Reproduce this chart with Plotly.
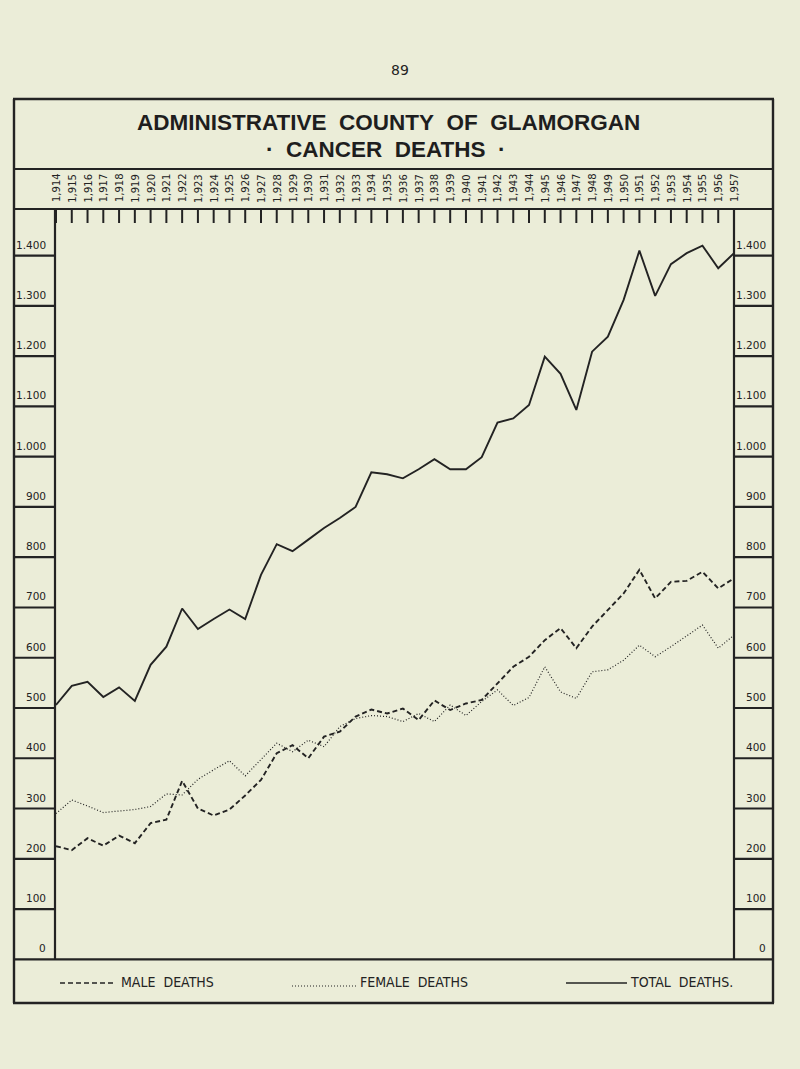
import plotly.graph_objects as go

# ---------------- data ----------------
years = [1914, 1915, 1916, 1917, 1918, 1919, 1920, 1921, 1922, 1923,
         1924, 1925, 1926, 1927, 1928, 1929, 1930, 1931, 1932, 1933,
         1934, 1935, 1936, 1937, 1938, 1939, 1940, 1941, 1942, 1943,
         1944, 1945, 1946, 1947, 1948, 1949, 1950, 1951, 1952, 1953,
         1954, 1955, 1956, 1957]

total_deaths = [506, 544, 552, 522, 541, 514, 586, 622, 698, 657,
                677, 696, 677, 765, 826, 812, 835, 858, 878, 900,
                969, 965, 957, 975, 995, 975, 975, 999, 1068, 1076,
                1103, 1199, 1165, 1093, 1209, 1239, 1312, 1410, 1320, 1383,
                1405, 1420, 1375, 1405]

male_deaths = [225, 217, 241, 226, 246, 231, 271, 278, 355, 300,
               286, 298, 326, 357, 410, 426, 400, 443, 453, 483,
               497, 489, 499, 476, 515, 496, 509, 516, 549, 582,
               602, 635, 659, 619, 662, 695, 728, 775, 718, 751,
               753, 771, 738, 758]

female_deaths = [290, 317, 305, 292, 295, 298, 304, 329, 327, 358,
                 377, 395, 365, 398, 430, 413, 436, 423, 463, 479,
                 485, 483, 473, 489, 473, 506, 485, 513, 536, 505,
                 521, 582, 532, 519, 572, 576, 595, 625, 602, 622,
                 643, 665, 619, 645]

year_labels = ["1,914", "1,915", "1,916", "1,917", "1,918", "1,919", "1,920", "1,921",
               "1,922", "1,923", "1,924", "1,925", "1,926", "1,927", "1,928", "1,929",
               "1,930", "1,931", "1,932", "1,933", "1,934", "1,935", "1,936", "1,937",
               "1,938", "1,939", "1,940", "1,941", "1,942", "1,943", "1,944", "1,945",
               "1,946", "1,947", "1,948", "1,949", "1,950", "1,951", "1,952", "1,953",
               "1,954", "1,955", "1,956", "1,957"]

scale_values = [0, 100, 200, 300, 400, 500, 600, 700, 800, 900, 1000, 1100, 1200, 1300, 1400]
scale_labels_left = ["0", "100", "200", "300", "400", "500", "600", "700", "800", "900",
                     "1.000", "1.100", "1.200", "1.300", "1.400"]
scale_labels_right = ["0", "100", "200", "300", "400", "500", "600", "700", "800", "900",
                      "1.000", "1.100", "1.200", "1.300", "1.400"]

# ---------------- layout helpers ----------------
W, H = 800, 1069
INK = "#232323"
BG = "#EBEDD8"


def px(x):
    return x / W


def py(y):
    return 1 - y / H


fig = go.Figure()

fig.add_trace(go.Scatter(x=years, y=total_deaths, mode="lines", name="TOTAL DEATHS",
                         line=dict(color=INK, width=1.9)))
fig.add_trace(go.Scatter(x=years, y=male_deaths, mode="lines", name="MALE DEATHS",
                         line=dict(color=INK, width=1.9, dash="5px,3px")))
fig.add_trace(go.Scatter(x=years, y=female_deaths, mode="lines", name="FEMALE DEATHS",
                         line=dict(color=INK, width=1.2, dash="1px,2px")))

shapes = []
LW = 2.2


def hline(y, x0, x1, w=LW):
    shapes.append(dict(type="line", xref="paper", yref="paper", x0=px(x0), x1=px(x1),
                       y0=py(y), y1=py(y), line=dict(color=INK, width=w)))


def vline(x, y0, y1, w=LW):
    shapes.append(dict(type="line", xref="paper", yref="paper", x0=px(x), x1=px(x),
                       y0=py(y0), y1=py(y1), line=dict(color=INK, width=w)))


# outer frame
hline(99, 13, 774, 2.4)
hline(1003, 13, 774, 2.4)
vline(14, 99, 1003, 2.4)
vline(773, 99, 1003, 2.4)
# inner rules
hline(169, 14, 773)
hline(209, 14, 773)
hline(959.3, 14, 773)
vline(55, 209, 959.3)
vline(734, 209, 959.3)

# side scale cells
for v in scale_values[1:]:
    for (a, b) in [(14, 55), (734, 773)]:
        shapes.append(dict(type="line", xref="paper", yref="y", x0=px(a), x1=px(b),
                           y0=v, y1=v, line=dict(color=INK, width=LW)))

# year ticks
for yr in years:
    shapes.append(dict(type="line", xref="x", yref="paper", x0=yr, x1=yr,
                       y0=py(209), y1=py(223), line=dict(color=INK, width=2)))

# legend samples
shapes.append(dict(type="line", xref="paper", yref="paper", x0=px(60), x1=px(116),
                   y0=py(983), y1=py(983), line=dict(color=INK, width=1.6, dash="5px,3px")))
shapes.append(dict(type="line", xref="paper", yref="paper", x0=px(292), x1=px(357),
                   y0=py(986), y1=py(986), line=dict(color=INK, width=1.1, dash="1px,2px")))
shapes.append(dict(type="line", xref="paper", yref="paper", x0=px(566), x1=px(627),
                   y0=py(983), y1=py(983), line=dict(color=INK, width=1.6)))

annotations = []
LABEL_FONT = dict(family="DejaVu Sans, Lato, sans-serif", size=10.5, color=INK)

annotations.append(dict(text="89", x=px(400), y=py(70), xref="paper", yref="paper",
                        yanchor="middle", showarrow=False,
                        font=dict(family="DejaVu Sans, sans-serif", size=14, color=INK)))
title_font = dict(family="Liberation Sans, Arial, sans-serif", size=22.5, color="#1e1e1e")
annotations.append(dict(text="<b>ADMINISTRATIVE\u00a0 COUNTY\u00a0 OF\u00a0 GLAMORGAN</b>",
                        x=px(388), y=py(122), xref="paper", yref="paper", showarrow=False,
                        yanchor="middle", font=title_font))
annotations.append(dict(text="<b>\u00b7\u00a0 CANCER\u00a0 DEATHS\u00a0 \u00b7</b>",
                        x=px(386), y=py(150), xref="paper", yref="paper", showarrow=False,
                        yanchor="middle", font=title_font))

for yr, lab in zip(years, year_labels):
    annotations.append(dict(text=lab, x=yr, xref="x", y=py(188), yref="paper",
                            showarrow=False, textangle=-90, yanchor="middle",
                            font=dict(family="DejaVu Sans, sans-serif", size=10, color=INK)))

for v, ll, rl in zip(scale_values, scale_labels_left, scale_labels_right):
    annotations.append(dict(text=ll, x=px(48), xanchor="right", xref="paper", y=v, yref="y",
                            yanchor="middle", yshift=11, showarrow=False, font=LABEL_FONT))
    annotations.append(dict(text=rl, x=px(768), xanchor="right", xref="paper", y=v, yref="y",
                            yanchor="middle", yshift=11, showarrow=False, font=LABEL_FONT))

LEG_FONT = dict(family="Liberation Sans Narrow, DejaVu Sans Condensed, Liberation Sans, sans-serif",
                size=14, color=INK)
annotations.append(dict(text="MALE\u00a0 DEATHS", x=px(119), xanchor="left", y=py(982),
                        yanchor="middle", xref="paper", yref="paper", showarrow=False, font=LEG_FONT))
annotations.append(dict(text="FEMALE\u00a0 DEATHS", x=px(358), xanchor="left", y=py(982),
                        yanchor="middle", xref="paper", yref="paper", showarrow=False, font=LEG_FONT))
annotations.append(dict(text="TOTAL\u00a0 DEATHS.", x=px(628), xanchor="left", y=py(982),
                        yanchor="middle", xref="paper", yref="paper", showarrow=False, font=LEG_FONT))

fig.update_layout(
    width=W, height=H,
    margin=dict(l=0, r=0, t=0, b=0),
    paper_bgcolor=BG, plot_bgcolor=BG,
    showlegend=False,
    xaxis=dict(domain=[px(56), px(734)], range=[1914, 1957], visible=False, fixedrange=True),
    yaxis=dict(domain=[py(959.3), py(205.4)], range=[0, 1500], visible=False, fixedrange=True),
    shapes=shapes,
    annotations=annotations,
)

fig.write_html("out.html", config={"displayModeBar": False})

# remove the default page margin so the figure sits at the window origin
with open("out.html", "r", encoding="utf-8") as f:
    html = f.read()
html = html.replace("<head>", "<head><style>html,body{margin:0;padding:0;background:%s;}</style>" % BG, 1)
with open("out.html", "w", encoding="utf-8") as f:
    f.write(html)
